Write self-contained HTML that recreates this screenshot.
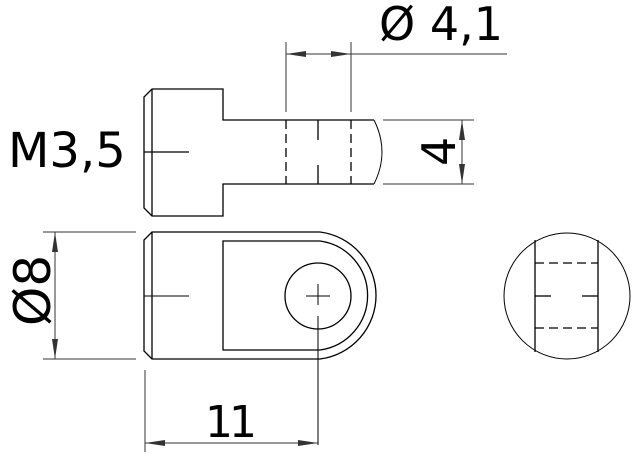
<!DOCTYPE html>
<html><head><meta charset="utf-8"><style>html,body{margin:0;padding:0;background:#fff}svg{display:block}</style></head>
<body>
<svg width="641" height="458" viewBox="0 0 641 458" xmlns="http://www.w3.org/2000/svg">
<defs>
<marker id="a" viewBox="0 0 20 6" refX="20" refY="3" markerWidth="20" markerHeight="6" markerUnits="userSpaceOnUse" orient="auto"><path d="M0,0 L20,3 L0,6 Z" fill="#333"/></marker>
</defs>
<g fill="none" stroke="#000" stroke-width="1.3">
<path d="M374,120 L223,120 L223,89 L152,89 L144,97 L144,208 L152,216 L223,216 L223,184 L374,184"/>
<line x1="152" y1="89" x2="152" y2="216"/>
<line x1="144" y1="152" x2="189" y2="152"/>
<path d="M374,120 Q390,152 374,184" stroke-width="1"/>
<line x1="286" y1="120" x2="286" y2="184" stroke-dasharray="9,5"/>
<line x1="351" y1="120" x2="351" y2="184" stroke-dasharray="9,5"/>
<line x1="318" y1="120" x2="318" y2="140"/>
<line x1="318" y1="165" x2="318" y2="184"/>
<path d="M152,232 L320,232 A64,64 0 0 1 320,359 L152,359 L144,351 L144,240 Z"/>
<line x1="152" y1="232" x2="152" y2="359"/>
<path d="M223,241 L320,241 A55,55 0 0 1 320,350 L223,350 Z"/>
<circle cx="318" cy="296" r="33"/>
<line x1="306" y1="296" x2="330" y2="296" stroke-width="1"/>
<line x1="318" y1="284" x2="318" y2="305" stroke-width="1"/>
<line x1="318" y1="316" x2="318" y2="445" stroke-width="1"/>
<line x1="144" y1="296" x2="189" y2="296" stroke-width="1"/>
<circle cx="567" cy="296" r="63" stroke-width="1"/>
<line x1="535" y1="240" x2="535" y2="352"/>
<line x1="598" y1="240" x2="598" y2="352"/>
<line x1="535" y1="263" x2="598" y2="263" stroke-dasharray="9,5"/>
<line x1="535" y1="328" x2="598" y2="328" stroke-dasharray="9,5"/>
<line x1="535" y1="296" x2="551" y2="296"/>
<line x1="582" y1="296" x2="598" y2="296"/>
</g>
<g stroke="#333" stroke-width="1" fill="none">
<line x1="286" y1="42" x2="286" y2="112"/>
<line x1="351" y1="42" x2="351" y2="112"/>
<line x1="318" y1="54" x2="286" y2="54" marker-end="url(#a)"/>
<line x1="318" y1="54" x2="351" y2="54" marker-end="url(#a)"/>
<line x1="351" y1="54" x2="507" y2="54"/>
<line x1="383" y1="120" x2="474" y2="120"/>
<line x1="383" y1="184" x2="474" y2="184"/>
<line x1="462" y1="152" x2="462" y2="120" marker-end="url(#a)"/>
<line x1="462" y1="152" x2="462" y2="184" marker-end="url(#a)"/>
<line x1="43" y1="232" x2="136" y2="232"/>
<line x1="43" y1="359" x2="136" y2="359"/>
<line x1="55" y1="296" x2="55" y2="232" marker-end="url(#a)"/>
<line x1="55" y1="296" x2="55" y2="359" marker-end="url(#a)"/>
<line x1="145" y1="370" x2="145" y2="452"/>
<line x1="230" y1="443" x2="145" y2="443" marker-end="url(#a)"/>
<line x1="230" y1="443" x2="318" y2="443" marker-end="url(#a)"/>
</g>
<g font-family="'DejaVu Sans','Liberation Sans',sans-serif" fill="#000">
<text x="8" y="167" font-size="48">M3,5</text>
<text x="379" y="40" font-size="46">Ø 4,1</text>
<text x="205" y="437" font-size="44" letter-spacing="-4">11</text>
<text transform="translate(50,326) rotate(-90)" font-size="50">Ø8</text>
<text transform="translate(455,166) rotate(-90)" font-size="46">4</text>
</g>
</svg>
</body></html>
